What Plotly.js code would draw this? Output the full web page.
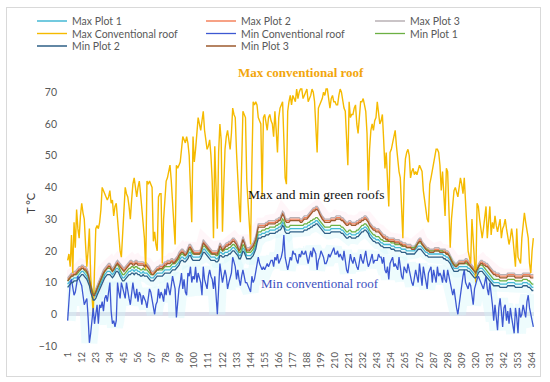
<!DOCTYPE html>
<html>
<head>
<meta charset="utf-8">
<script src="https://cdn.plot.ly/plotly-3.0.1.min.js"></script>
<style>
html,body{margin:0;padding:0;background:#fff;}
#wrap{position:relative;width:550px;height:382px;}
#chart{width:550px;height:382px;}
#frame{position:absolute;left:6px;top:7px;width:533px;height:368px;border:1px solid #D9D9D9;pointer-events:none;}
</style>
</head>
<body>
<div id="wrap"><div id="chart"></div><div id="frame"></div></div>
<script>
// ---- data (daily values, day 1..365) ----
const tickDays = [1,12,23,34,45,56,67,78,89,100,111,122,133,144,155,166,177,188,199,210,221,232,243,254,265,276,287,298,309,320,331,342,353,364];

const maxPlot3 = [11.5,12,12.5,13,13,13.5,13.5,14,14.5,15,
15,15.5,15.5,15,15,14.5,13.5,12,10,8,
7,7,8,9.5,10.5,11.5,12.5,13.5,14,14.5,
15,15.5,16,16,15,14.5,15,16,16.5,17,
16.5,16,15.5,15,14.5,15,15.5,16,16.5,17,
17,16.5,16.5,17,17,16.5,16.5,16.5,16.5,16.5,
16,16.5,16,15.5,15,14,13.5,13.5,14,14.5,
15,15,15.5,15.5,15.5,16,16.5,16.5,17,17,
17,17.5,17.5,17,17.5,18,18.5,19.5,20,20.5,
20.5,20,19.5,20,21,22,22,21,20.5,20,
20,20,20,20,20.5,22,23.5,23,22.5,22,
21.5,21,20.5,20,20,20,20,20,21,22.5,
22,21,21.5,22,22.5,22.5,23,23,23.5,24,
24,23.5,23,22,21,21.5,23,24.5,23.5,22,
21,21,21,21.5,22,22.5,23.5,24.5,26.5,28.5,
28.5,28.5,28.5,28.5,28.5,29,29,29.5,29.5,29.5,
29.5,29.5,29.5,30,30,30.5,30.5,31.5,32.5,32,
30.5,30,30,30,30.5,30.5,30.5,30.5,30.5,30.5,
30.5,30.5,30,30,30.5,31,31,31,31.5,32,
32.5,33,33.5,33.5,34,34,33.5,32.5,31.5,31,
30.5,30,30,30,30,30,30.5,30.5,30.5,30.5,
31,31,31,31,30.5,30.5,30,29.5,29,29,
29.5,29.5,29,29,29,29,29.5,29.5,30,30,
30.5,30.5,31,31,30.5,30,29,28.5,28,27.5,
27.5,27,27,27,26.5,26,25.5,25,25,24.5,
24.5,24,24,24,24,24,23.5,23.5,23.5,23.5,
23,23,22.5,22.5,22.5,22,22,22,22,21.5,
21.5,21.5,22,23,23.5,24,24,23,22.5,22,
21.5,21,21,20.5,20.5,20.5,20.5,21,21,21,
21,20.5,20.5,20.5,20.5,20.5,20,20,19.5,18.5,
18,17,16.5,16,16,16.5,17,17,17,17,
17,17.5,17.5,17,16.5,16,15.5,15,14.5,14,
15,16,16.5,17,17,16.5,16.5,16,16,15.5,
15,14.5,14,13.5,13.5,13,13,13,12.5,12.5,
12.5,12.5,12.5,12.5,13,13,13,13,13,13,
12.5,12.5,12.5,12.5,12.5,12.5,13,13,13,13,
13,13,12.5,12.5,12.5];

const maxPlot2 = [11,11.5,12,12.5,12.5,13,13,13.5,14,14.5,
14.5,15,15,14.5,14.5,14,13,11.5,9.5,7.5,
6.5,6.5,7.5,9,10,11,12,13,13.5,14,
14.5,15,15.5,15.5,14.5,14,14.5,15.5,16,16.5,
16,15.5,15,14.5,14,14.5,15,15.5,16,16.5,
16.5,16,16,16.5,16.5,16,16,16,16,16,
15.5,16,15.5,15,14.5,13.5,13,13,13.5,14,
14.5,14.5,15,15,15,15.5,16,16,16.5,16.5,
16.5,17,17,16.5,17,17.5,18,19,19.5,20,
20,19.5,19,19.5,20.5,21.5,21.5,20.5,20,19.5,
19.5,19.5,19.5,19.5,20,21.5,23,22.5,22,21.5,
21,20.5,20,19.5,19.5,19.5,19.5,19.5,20.5,22,
21.5,20.5,21,21.5,22,22,22.5,22.5,23,23.5,
23.5,23,22.5,21.5,20.5,21,22.5,24,23,21.5,
20.5,20.5,20.5,21,21.5,22,23,24,26,28,
28,28,28,28,28,28.5,28.5,29,29,29,
29,29,29,29.5,29.5,30,30,31,32,31.5,
30,29.5,29.5,29.5,30,30,30,30,30,30,
30,30,29.5,29.5,30,30.5,30.5,30.5,31,31.5,
32,32.5,33,33,33.5,33.5,33,32,31,30.5,
30,29.5,29.5,29.5,29.5,29.5,30,30,30,30,
30.5,30.5,30.5,30.5,30,30,29.5,29,28.5,28.5,
29,29,28.5,28.5,28.5,28.5,29,29,29.5,29.5,
30,30,30.5,30.5,30,29.5,28.5,28,27.5,27,
27,26.5,26.5,26.5,26,25.5,25,24.5,24.5,24,
24,23.5,23.5,23.5,23.5,23.5,23,23,23,23,
22.5,22.5,22,22,22,21.5,21.5,21.5,21.5,21,
21,21,21.5,22.5,23,23.5,23.5,22.5,22,21.5,
21,20.5,20.5,20,20,20,20,20.5,20.5,20.5,
20.5,20,20,20,20,20,19.5,19.5,19,18,
17.5,16.5,16,15.5,15.5,16,16.5,16.5,16.5,16.5,
16.5,17,17,16.5,16,15.5,15,14.5,14,13.5,
14.5,15.5,16,16.5,16.5,16,16,15.5,15.5,15,
14.5,14,13.5,13,13,12.5,12.5,12.5,12,12,
12,12,12,12,12.5,12.5,12.5,12.5,12.5,12.5,
12,12,12,12,12,12,12.5,12.5,12.5,12.5,
12.5,12.5,12,12,12];

const minPlot3 = [10.5,11,11.5,12,12,12.5,12.5,13,13.5,14,
14,14.5,14.5,14,14,13.5,12.5,11,9,7,
6,6,7,8.5,9.5,10.5,11.5,12.5,13,13.5,
14,14.5,15,15,14,13.5,14,15,15.5,16,
15.5,15,14.5,14,13.5,14,14.5,15,15.5,16,
16,15.5,15.5,16,16,15.5,15.5,15.5,15.5,15.5,
15,15.5,15,14.5,14,13,12.5,12.5,13,13.5,
14,14,14.5,14.5,14.5,15,15.5,15.5,16,16,
16,16.5,16.5,16,16.5,17,17.5,18.5,19,19.5,
19.5,19,18.5,19,20,21,21,20,19.5,19,
19,19,19,19,19.5,21,22.5,22,21.5,21,
20.5,20,19.5,19,19,19,19,19,20,21.5,
21,20,20.5,21,21.5,21.5,22,22,22.5,23,
23,22.5,22,21,20,20.5,22,23.5,22.5,21,
20,20,20,20.5,21,21.5,22.5,23.5,25.5,27.5,
27.5,27.5,27.5,27.5,27.5,28,28,28.5,28.5,28.5,
28.5,28.5,28.5,29,29,29.5,29.5,30.5,31.5,31,
29.5,29,29,29,29.5,29.5,29.5,29.5,29.5,29.5,
29.5,29.5,29,29,29.5,30,30,30,30.5,31,
31.5,32,32.5,32.5,33,33,32.5,31.5,30.5,30,
29.5,29,29,29,29,29,29.5,29.5,29.5,29.5,
30,30,30,30,29.5,29.5,29,28.5,28,28,
28.5,28.5,28,28,28,28,28.5,28.5,29,29,
29.5,29.5,30,30,29.5,29,28,27.5,27,26.5,
26.5,26,26,26,25.5,25,24.5,24,24,23.5,
23.5,23,23,23,23,23,22.5,22.5,22.5,22.5,
22,22,21.5,21.5,21.5,21,21,21,21,20.5,
20.5,20.5,21,22,22.5,23,23,22,21.5,21,
20.5,20,20,19.5,19.5,19.5,19.5,20,20,20,
20,19.5,19.5,19.5,19.5,19.5,19,19,18.5,17.5,
17,16,15.5,15,15,15.5,16,16,16,16,
16,16.5,16.5,16,15.5,15,14.5,14,13.5,13,
14,15,15.5,16,16,15.5,15.5,15,15,14.5,
14,13.5,13,12.5,12.5,12,12,12,11.5,11.5,
11.5,11.5,11.5,11.5,12,12,12,12,12,12,
11.5,11.5,11.5,11.5,11.5,11.5,12,12,12,12,
12,12,11.5,11.5,11.5];

const minPlot1 = [10.5,11,11.5,12,12,12.5,12.5,12.5,13,13.5,
14,14.5,14.5,14,13.5,13,12,11,9,7.5,
6.5,6.5,7,8,9,10,11,12,13,13.5,
14,14.5,14.5,14.5,14,13.5,14,15,15.5,15.5,
15,14,13,12.5,12.5,13,13.5,14,14.5,14.5,
15,15,14.5,15,15,14.5,14.5,14,14,14.5,
14,14,14,13.5,13,12.5,12.5,12.5,13,13.5,
14,14,14,14,14,14.5,15,15,15,15,
15,15.5,16,16,16,16.5,17,17.5,18.5,19,
19,18.5,18.5,19,19.5,20.5,20.5,19.5,19,19,
19,19,19,19,19.5,20.5,21.5,21.5,21,20.5,
20,19.5,19,19,19,19,18.5,18.5,19,20.5,
20.5,20,20,20.5,20.5,20.5,21,21,21.5,22,
22,21.5,21,20.5,19.5,19.5,20.5,22,21.5,20.5,
19.5,19.5,19.5,19.5,20,20.5,21.5,22.5,24.5,26,
26,26,26.5,26.5,26.5,27,27,27,27.5,27.5,
27.5,27.5,27.5,28,28,28.5,28.5,29,30,29.5,
28,27.5,27.5,27.5,28,28,28,28,28,28,
28,28,28,28,28,28.5,28.5,28.5,29,29,
29.5,29.5,30,30,30.5,30.5,30,29.5,29,28.5,
28,27.5,27.5,27.5,27.5,27.5,28,28,28,28,
28,28,28,28,27.5,27.5,27,26.5,26,26,
26.5,26.5,26,26,26,26,26.5,26.5,27,27.5,
28,28,28.5,28.5,28,27.5,26.5,26,25.5,25,
25,24.5,24.5,24.5,24,23.5,23.5,23,23,23,
23,23,23,22.5,22.5,22.5,22,22,22,22,
22,21.5,21.5,21.5,21.5,21,21,21,21,21,
21,21,21.5,22,22.5,22.5,22.5,22,21.5,21,
20.5,20.5,20,20,20,20,20,20,20,20,
20,20,20,20,19.5,19.5,19,19,18.5,18,
17,16,15.5,15.5,15.5,15.5,16,16,16,16,
16,16,16,15.5,15.5,15,14.5,14,13.5,13.5,
14,15,15.5,15.5,15.5,15,14.5,14,13.5,13,
12.5,12,11.5,11,11,11,11,11,10.5,10.5,
10.5,10.5,10.5,10.5,11,11,11,11,11,11,
10.5,10.5,10.5,10.5,10.5,10.5,11,11,11,11,
10.5,10.5,10,9.5,9.5];

const maxPlot1 = [9.5,10,10.5,11,11,11.5,11.5,11.5,12,12.5,
13,13.5,13.5,13,12.5,12,11,10,8,6.5,
5.5,5.5,6,7,8,9,10,11,12,12.5,
13,13.5,13.5,13.5,13,12.5,13,14,14.5,14.5,
14,13,12,11.5,11.5,12,12.5,13,13.5,13.5,
14,14,13.5,14,14,13.5,13.5,13,13,13.5,
13,13,13,12.5,12,11.5,11.5,11.5,12,12.5,
13,13,13,13,13,13.5,14,14,14,14,
14,14.5,15,15,15,15.5,16,16.5,17.5,18,
18,17.5,17.5,18,18.5,19.5,19.5,18.5,18,18,
18,18,18,18,18.5,19.5,20.5,20.5,20,19.5,
19,18.5,18,18,18,18,17.5,17.5,18,19.5,
19.5,19,19,19.5,19.5,19.5,20,20,20.5,21,
21,20.5,20,19.5,18.5,18.5,19.5,21,20.5,19.5,
18.5,18.5,18.5,18.5,19,19.5,20.5,21.5,23.5,25,
25,25,25.5,25.5,25.5,26,26,26,26.5,26.5,
26.5,26.5,26.5,27,27,27.5,27.5,28,29,28.5,
27,26.5,26.5,26.5,27,27,27,27,27,27,
27,27,27,27,27,27.5,27.5,27.5,28,28,
28.5,28.5,29,29,29.5,29.5,29,28.5,28,27.5,
27,26.5,26.5,26.5,26.5,26.5,27,27,27,27,
27,27,27,27,26.5,26.5,26,25.5,25,25,
25.5,25.5,25,25,25,25,25.5,25.5,26,26.5,
27,27,27.5,27.5,27,26.5,25.5,25,24.5,24,
24,23.5,23.5,23.5,23,22.5,22.5,22,22,22,
22,22,22,21.5,21.5,21.5,21,21,21,21,
21,20.5,20.5,20.5,20.5,20,20,20,20,20,
20,20,20.5,21,21.5,21.5,21.5,21,20.5,20,
19.5,19.5,19,19,19,19,19,19,19,19,
19,19,19,19,18.5,18.5,18,18,17.5,17,
16,15,14.5,14.5,14.5,14.5,15,15,15,15,
15,15,15,14.5,14.5,14,13.5,13,12.5,12.5,
13,14,14.5,14.5,14.5,14,13.5,13,12.5,12,
11.5,11,10.5,10,10,10,10,10,9.5,9.5,
9.5,9.5,9.5,9.5,10,10,10,10,10,10,
9.5,9.5,9.5,9.5,9.5,9.5,10,10,10,10,
9.5,9.5,9,8.5,8.5];

const minPlot2 = [8.5,9,9.5,10,10,10.5,10.5,10.5,11,11.5,
12,12.5,12.5,12,11.5,11,10,9,7,5.5,
4.5,4.5,5,6,7,8,9,10,11,11.5,
12,12.5,12.5,12.5,12,11.5,12,13,13.5,13.5,
13,12,11,10.5,10.5,11,11.5,12,12.5,12.5,
13,13,12.5,13,13,12.5,12.5,12,12,12.5,
12,12,12,11.5,11,10.5,10.5,10.5,11,11.5,
12,12,12,12,12,12.5,13,13,13,13,
13,13.5,14,14,14,14.5,15,15.5,16.5,17,
17,16.5,16.5,17,17.5,18.5,18.5,17.5,17,17,
17,17,17,17,17.5,18.5,19.5,19.5,19,18.5,
18,17.5,17,17,17,17,16.5,16.5,17,18.5,
18.5,18,18,18.5,18.5,18.5,19,19,19.5,20,
20,19.5,19,18.5,17.5,17.5,18.5,20,19.5,18.5,
17.5,17.5,17.5,17.5,18,18.5,19.5,20.5,22.5,24,
24,24,24.5,24.5,24.5,25,25,25,25.5,25.5,
25.5,25.5,25.5,26,26,26.5,26.5,27,28,27.5,
26,25.5,25.5,25.5,26,26,26,26,26,26,
26,26,26,26,26,26.5,26.5,26.5,27,27,
27.5,27.5,28,28,28.5,28.5,28,27.5,27,26.5,
26,25.5,25.5,25.5,25.5,25.5,26,26,26,26,
26,26,26,26,25.5,25.5,25,24.5,24,24,
24.5,24.5,24,24,24,24,24.5,24.5,25,25.5,
26,26,26.5,26.5,26,25.5,24.5,24,23.5,23,
23,22.5,22.5,22.5,22,21.5,21.5,21,21,21,
21,21,21,20.5,20.5,20.5,20,20,20,20,
20,19.5,19.5,19.5,19.5,19,19,19,19,19,
19,19,19.5,20,20.5,20.5,20.5,20,19.5,19,
18.5,18.5,18,18,18,18,18,18,18,18,
18,18,18,18,17.5,17.5,17,17,16.5,16,
15,14,13.5,13.5,13.5,13.5,14,14,14,14,
14,14,14,13.5,13.5,13,12.5,12,11.5,11.5,
12,13,13.5,13.5,13.5,13,12.5,12,11.5,11,
10.5,10,9.5,9,9,9,9,9,8.5,8.5,
8.5,8.5,8.5,8.5,9,9,9,9,9,9,
8.5,8.5,8.5,8.5,8.5,8.5,9,9,9,9,
8.5,8.5,8,7.5,7.5];

const maxConventional = [17,19,15,25,13,29,21,33,27,24,
31,35,32,30,22,15,20,27,12,5,
0,14,27,28,27,29,33,40,39,38,
37,36,37,39,35,36,31,34,35,30,
23,20,18,25,33,40,38,37,34,30,
36,41,43,39,37,40,42,38,33,27,
24,14,42,41,42,41,40,23,26,22,
20,37,38,38,16,30,36,42,43,45,
47,42,36,30,22,47,46,47,48,52,
56,55,54,56,54,50,39,29,56,48,
52,57,62,60,58,61,64,58,55,52,
53,55,50,42,24,53,40,27,51,60,
55,26,40,52,56,58,55,52,57,65,
63,62,51,40,35,29,53,64,63,62,
42,35,28,22,47,67,66,67,66,62,
61,60,37,62,63,61,58,62,63,61,
60,56,64,58,51,62,65,66,67,55,
43,41,64,67,69,66,69,68,67,71,
68,70,71,71,68,69,70,71,67,68,
69,71,70,67,60,51,65,66,67,68,
70,69,71,71,68,65,68,69,67,67,
66,66,69,71,70,67,65,64,56,47,
67,62,63,63,65,66,60,57,62,67,
67,68,66,64,57,39,52,58,60,58,
61,62,67,64,60,61,63,55,46,51,
40,34,51,52,54,56,58,53,48,45,
43,30,24,42,49,51,52,50,43,45,
46,44,45,44,46,47,46,45,39,36,
33,30,29,41,43,45,47,50,52,52,
51,47,39,45,38,31,46,45,33,21,
30,36,39,40,38,37,40,43,41,38,
43,35,26,20,18,16,30,24,15,10,
35,34,30,27,24,27,30,34,24,28,
34,25,29,27,31,28,26,28,30,24,
27,28,30,27,25,22,24,27,24,20,
15,27,18,17,16,24,28,32,29,27,
24,16,13,20,24];

const minConventional = [-2,6,10,11,8,6,7,10,12,11,
10,9,6,3,4,5,-1,-9,-6,-1,
2,-3,1,3,-3,3,2,4,1,5,
6,4,7,10,1,-3,-2,-4,-2,10,
7,5,10,8,6,5,10,7,5,3,
6,10,7,5,8,4,7,6,3,6,
5,4,2,5,8,7,5,2,0,3,
4,8,5,7,6,4,8,6,10,8,
6,9,12,10,8,-1,5,8,10,13,
8,11,7,6,13,12,15,10,12,11,
15,10,13,11,10,6,15,11,9,8,
12,14,12,11,8,12,6,0,8,16,
13,10,12,14,12,8,10,12,13,18,
16,15,11,14,11,9,12,14,12,10,
10,9,8,7,12,10,11,13,16,18,
16,15,14,15,14,15,16,15,16,17,
17,15,18,17,19,16,17,18,20,25,
18,16,14,16,18,17,20,19,19,17,
16,19,18,20,19,19,20,18,16,18,
20,18,21,20,19,14,17,18,20,19,
18,16,16,17,19,18,19,20,21,19,
19,20,18,19,18,17,20,16,14,13,
17,19,17,16,18,16,15,14,17,19,
17,16,18,20,17,15,16,18,19,16,
17,17,17,19,18,18,16,18,14,13,
15,11,16,17,18,15,16,15,14,18,
14,12,11,15,14,13,16,14,11,10,
9,12,14,12,10,16,12,9,15,13,
11,8,13,14,15,10,14,12,10,15,
12,13,12,10,14,11,10,14,12,10,
8,6,8,4,2,0,3,7,9,12,
14,10,9,8,10,9,6,3,8,10,
11,12,11,10,9,8,10,12,8,6,
10,7,3,-2,3,-1,-5,2,5,1,
-4,2,3,-2,1,-3,2,-1,-4,-6,
2,-1,-6,2,-1,0,3,1,-1,4,
6,2,0,-1,-4];

const days = maxConventional.map((_, i) => i + 1);

// ---- traces ----
function line(name, y, color, width, legend, lw) {
  const t = {type:'scatter', mode:'lines', name:name, x:days, y:y,
    line:{color:color, width:width}, legend:legend, hoverinfo:'skip'};
  if (lw) t.legendwidth = lw;
  return t;
}
function glow(y, color, width) {
  return {type:'scatter', mode:'lines', x:days, y:y, showlegend:false,
    line:{color:color, width:width}, hoverinfo:'skip'};
}

const traces = [
  glow(minConventional, 'rgba(205,245,250,0.35)', 16),
  glow(maxPlot3, 'rgba(255,220,232,0.25)', 12),
  glow(minPlot2, 'rgba(210,246,250,0.35)', 12),
  line('Max Plot 1', maxPlot1, '#45B9D5', 1.3, 'legend'),
  line('Max Plot 2', maxPlot2, '#F4835E', 1.3, 'legend'),
  line('Max Plot 3', maxPlot3, '#B9B0B4', 1.3, 'legend', 60),
  line('Max Conventional roof', maxConventional, '#F5BA00', 1.4, 'legend2'),
  line('Min Conventional roof', minConventional, '#3D58D2', 1.3, 'legend2'),
  line('Min Plot 1', minPlot1, '#6CB043', 1.3, 'legend2', 60),
  line('Min Plot 2', minPlot2, '#2E5F86', 1.3, 'legend3'),
  line('Min Plot 3', minPlot3, '#9C5A2E', 1.3, 'legend3', 60)
];

const legFont = {family:'Lato, Open Sans, sans-serif', size:10.5, color:'#595959'};
function legendCfg(yPix) {
  return {orientation:'h', xref:'container', yref:'container',
    x:32/550, y:1 - yPix/382, xanchor:'left', yanchor:'middle',
    entrywidth:124, entrywidthmode:'pixels', font:legFont,
    bgcolor:'rgba(0,0,0,0)', borderwidth:0, traceorder:'normal'};
}

const layout = {
  width:550, height:382,
  margin:{l:67, r:16, t:60, b:36, pad:0},
  paper_bgcolor:'#ffffff', plot_bgcolor:'#ffffff',
  showlegend:true,
  legend:legendCfg(21),
  legend2:legendCfg(33.5),
  legend3:legendCfg(46),
  xaxis:{
    range:[0.5, 365.5], tickmode:'array', tickvals:tickDays,
    ticktext:tickDays.map(String), tickangle:-90,
    showgrid:false, zeroline:false, showline:false, ticks:'',
    ticklabelstandoff:3,
    tickfont:{family:'Lato, Open Sans, sans-serif', size:9.5, color:'#595959'}
  },
  yaxis:{
    range:[-10, 80], tickmode:'array', tickvals:[-10,0,10,20,30,40,50,60,70],
    showgrid:false, zeroline:true, zerolinecolor:'#DCDCE8', zerolinewidth:4,
    showline:false, ticks:'', ticklabelstandoff:9,
    tickfont:{family:'Lato, Open Sans, sans-serif', size:10.5, color:'#595959'},
    title:{text:'T °C', standoff:0,
      font:{family:'Lato, Open Sans, sans-serif', size:11, color:'#404040'}}
  },
  annotations:[
    {x:183.6, y:76.3, xref:'x', yref:'y', text:'<b>Max conventional roof</b>', showarrow:false,
      font:{family:'Liberation Serif, Times New Roman, serif', size:13, color:'#F2A60C'}},
    {x:195.4, y:37.8, xref:'x', yref:'y', text:'Max and min green roofs', showarrow:false,
      font:{family:'Liberation Serif, Times New Roman, serif', size:13.5, color:'#111111'}},
    {x:198.5, y:9.8, xref:'x', yref:'y', text:'Min conventional roof', showarrow:false,
      font:{family:'Liberation Serif, Times New Roman, serif', size:13, color:'#3B4FC0'}}
  ]
};

Plotly.newPlot('chart', traces, layout, {displayModeBar:false, staticPlot:true});
</script>
</body>
</html>
